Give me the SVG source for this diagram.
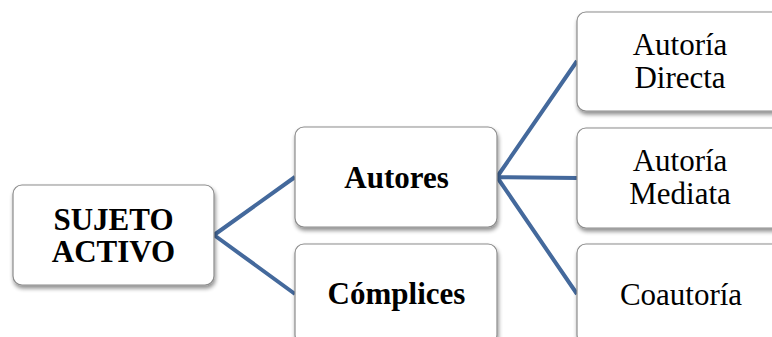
<svg xmlns="http://www.w3.org/2000/svg" width="772" height="337" viewBox="0 0 772 337">
<style>
.box{fill:#fff;stroke:#8c8c8c;stroke-width:1.2;filter:url(#sh)}
.t{font-family:"Liberation Serif","Times New Roman",serif;font-size:31px;fill:#000;text-anchor:middle}
.b{font-weight:bold}
.c{stroke:#44699c;stroke-width:4;fill:none}
</style>
<defs>
<filter id="sh" x="-10%" y="-10%" width="130%" height="130%">
<feGaussianBlur in="SourceAlpha" stdDeviation="2"/>
<feOffset dx="1" dy="3"/>
<feComponentTransfer><feFuncA type="linear" slope="0.45"/></feComponentTransfer>
<feMerge><feMergeNode/><feMergeNode in="SourceGraphic"/></feMerge>
</filter>
</defs>
<g id="connectors">
<path class="c" d="M214,235 L295,177 M214,235 L295,294"/>
<path class="c" d="M497,177 L577,61 M497,177 L577,178 M497,177 L577,294"/>
</g>
<g id="sujeto">
<rect class="box" x="13" y="185" width="201" height="100" rx="9"/>
<text class="t b" x="113.5" y="230">SUJETO</text>
<text class="t b" x="113.5" y="262">ACTIVO</text>
</g>
<g id="autores">
<rect class="box" x="295" y="127" width="202" height="100" rx="9"/>
<text class="t b" x="396.5" y="188">Autores</text>
</g>
<g id="complices">
<rect class="box" x="295" y="244" width="202" height="100" rx="9"/>
<text class="t b" x="396.5" y="304">Cómplices</text>
</g>
<g id="directa">
<rect class="box" x="577" y="12" width="206" height="99" rx="9"/>
<text class="t" x="680" y="55">Autoría</text>
<text class="t" x="680" y="88">Directa</text>
</g>
<g id="mediata">
<rect class="box" x="577" y="128" width="206" height="100" rx="9"/>
<text class="t" x="680" y="171">Autoría</text>
<text class="t" x="680" y="204">Mediata</text>
</g>
<g id="coautoria">
<rect class="box" x="577" y="244" width="206" height="100" rx="9"/>
<text class="t" x="681" y="305">Coautoría</text>
</g>
</svg>
